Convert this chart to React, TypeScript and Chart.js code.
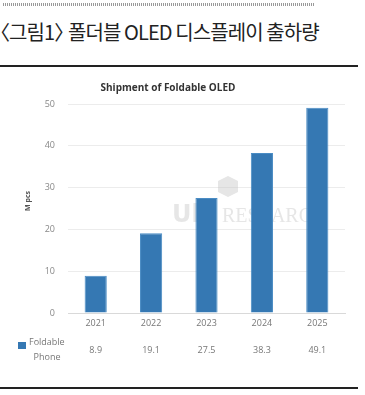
import React, { useEffect, useRef } from "react";
import { Chart, registerables } from "chart.js";

Chart.register(...registerables);

const pageTitleFig = "그림1";
const pageTitleText = "폴더블 OLED 디스플레이 출하량";
const chartTitle = "Shipment of Foldable OLED";
const yAxisTitle = "M pcs";
const seriesName = ["Foldable", "Phone"];
const years = ["2021", "2022", "2023", "2024", "2025"];
const shipments = [8.9, 19.1, 27.5, 38.3, 49.1];
const valueLabels = ["8.9", "19.1", "27.5", "38.3", "49.1"];
const yTicks = [0, 10, 20, 30, 40, 50];

const BAR = "#3578b3";
const FONT = "'Open Sans', 'Noto Sans', sans-serif";

const extras = {
  id: "extras",
  beforeDatasetsDraw(chart: any) {
    const ctx = chart.ctx;
    ctx.save();
    ctx.fillStyle = "rgba(200,200,200,0.45)";
    ctx.beginPath();
    ctx.moveTo(228, 106);
    ctx.lineTo(238, 111);
    ctx.lineTo(238, 122);
    ctx.lineTo(228, 127);
    ctx.lineTo(218, 122);
    ctx.lineTo(218, 111);
    ctx.closePath();
    ctx.fill();
    ctx.font = "bold 24px 'DejaVu Sans', sans-serif";
    ctx.textBaseline = "middle";
    ctx.textAlign = "left";
    ctx.fillText("Ubi", 172, 146);
    ctx.font = "20px 'Liberation Serif', serif";
    ctx.fillText("RESEARCH", 222, 147);
    ctx.restore();
  },
  afterDraw(chart: any) {
    const ctx = chart.ctx;
    const x = chart.scales.x;
    ctx.save();
    ctx.fillStyle = "#333";
    ctx.font = "bold 10px " + FONT;
    ctx.textAlign = "center";
    ctx.textBaseline = "middle";
    ctx.fillText(chartTitle, 168, 18);
    ctx.save();
    ctx.translate(28, 131);
    ctx.rotate(-Math.PI / 2);
    ctx.font = "bold 7px " + FONT;
    ctx.fillStyle = "#555";
    ctx.fillText(yAxisTitle, 0, 0);
    ctx.restore();
    ctx.fillStyle = BAR;
    ctx.fillRect(18, 272, 8, 7);
    ctx.fillStyle = "#777";
    ctx.font = "9px " + FONT;
    ctx.textAlign = "left";
    ctx.fillText(seriesName[0], 29, 272);
    ctx.textAlign = "center";
    ctx.fillText(seriesName[1], 47, 287);
    valueLabels.forEach((v, i) => {
      ctx.fillText(v, x.getPixelForValue(i), 280);
    });
    ctx.restore();
  },
};

export default function App() {
  const ref = useRef<HTMLCanvasElement>(null);
  useEffect(() => {
    if (!ref.current) return;
    const chart = new Chart(ref.current, {
      type: "bar",
      data: {
        labels: years,
        datasets: [
          {
            label: seriesName.join(" "),
            data: shipments,
            backgroundColor: BAR,
            borderColor: "#4a8cc4",
            borderWidth: 1,
            barPercentage: 0.4,
            categoryPercentage: 1,
          },
        ],
      },
      options: {
        animation: false,
        responsive: false,
        maintainAspectRatio: false,
        layout: { padding: { top: 34, right: 20, bottom: 52, left: 0 } },
        plugins: { legend: { display: false }, title: { display: false }, tooltip: { enabled: false } },
        scales: {
          x: {
            grid: { display: false, drawTicks: false },
            border: { color: "#d9d9d9" },
            ticks: { color: "#777", font: { size: 9, family: FONT }, padding: 5 },
            afterFit(s: any) {
              s.height = 20;
            },
          },
          y: {
            min: 0,
            max: 50,
            afterBuildTicks(s: any) {
              s.ticks = yTicks.map((v) => ({ value: v }));
            },
            grid: { color: "#ececec", drawTicks: false },
            border: { display: false },
            ticks: { color: "#888", font: { size: 9, family: FONT }, padding: 13 },
            afterFit(s: any) {
              s.width = 68;
            },
          },
        },
      },
      plugins: [extras],
    });
    return () => chart.destroy();
  }, []);

  return (
    <div style={{ position: "absolute", left: 0, top: 0, width: 365, height: 395, background: "#fff", overflow: "hidden" }}>
      <div
        style={{
          position: "absolute",
          left: 3,
          top: 3,
          width: 312,
          height: 3,
          background: "repeating-linear-gradient(90deg, #999 0 1px, transparent 1px 2px)",
        }}
      />
      <div
        style={{
          position: "absolute",
          left: 0,
          top: 18,
          fontFamily: "'Noto Sans CJK KR', sans-serif",
          fontSize: 20,
          lineHeight: "27px",
          color: "#222",
          whiteSpace: "nowrap",
          letterSpacing: -0.9,
        }}
      >
        <span style={{ marginLeft: -10 }}>〈</span>
        {pageTitleFig}
        <span style={{ letterSpacing: -10 }}>〉</span> {pageTitleText}
      </div>
      <div style={{ position: "absolute", left: 0, top: 65, width: 358, height: 2, background: "#222" }} />
      <canvas ref={ref} width={365} height={315} style={{ position: "absolute", left: 0, top: 70, width: 365, height: 315 }} />
      <div style={{ position: "absolute", left: 0, top: 387, width: 358, height: 2, background: "#222" }} />
    </div>
  );
}
